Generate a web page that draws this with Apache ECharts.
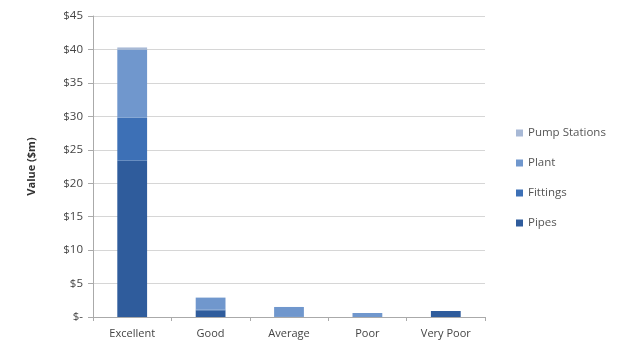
<!DOCTYPE html>
<html>
<head>
<meta charset="utf-8">
<script src="https://cdn.jsdelivr.net/npm/echarts@6/dist/echarts.min.js"></script>
<style>
  html, body { margin: 0; padding: 0; background: #fff; }
  #chart { width: 630px; height: 349px; }
</style>
</head>
<body>
<div id="chart"></div>
<script>
// categories and values ($m)
const categories = ['Excellent', 'Good', 'Average', 'Poor', 'Very Poor'];
const pipes = [23.4, 1.0, 0, 0, 0.9];
const fittings = [6.4, 0.1, 0.1, 0, 0];
const plant = [10.2, 1.8, 1.4, 0.6, 0];
const pumpStations = [0.3, 0, 0, 0, 0];

const chart = echarts.init(document.getElementById('chart'));

const font = '"Open Sans", "DejaVu Sans", sans-serif';

function bar(name, data, color) {
  return {
    name: name,
    type: 'bar',
    stack: 'total',
    data: data,
    barWidth: '38%',
    itemStyle: { color: color },
    emphasis: { disabled: true }
  };
}

chart.setOption({
  animation: false,
  grid: { left: 93, right: 145, top: 16, bottom: 32 },
  legend: {
    orient: 'vertical',
    left: 511,
    top: 121,
    itemGap: 16,
    itemWidth: 7,
    itemHeight: 7,
    icon: 'rect',
    data: ['Pump Stations', 'Plant', 'Fittings', 'Pipes'],
    textStyle: { color: '#555', fontSize: 11.5, fontFamily: font, lineHeight: 14 }
  },
  xAxis: {
    type: 'category',
    data: categories,
    axisLine: { lineStyle: { color: '#aaa' } },
    axisTick: { show: true, length: 4, lineStyle: { color: '#aaa' } },
    axisLabel: { color: '#444', fontSize: 11, fontFamily: font, margin: 11 }
  },
  yAxis: {
    type: 'value',
    min: 0,
    max: 45,
    interval: 5,
    name: 'Value ($m)',
    nameLocation: 'middle',
    nameGap: 56,
    nameTextStyle: { color: '#333', fontSize: 11, fontWeight: 'bold', fontFamily: font },
    axisLine: { show: true, lineStyle: { color: '#aaa' } },
    axisTick: { show: true, length: 5, lineStyle: { color: '#aaa' } },
    splitLine: { lineStyle: { color: '#d6d6d6' } },
    axisLabel: {
      color: '#444',
      fontSize: 11.5,
      fontFamily: font,
      margin: 10,
      formatter: function (v) { return v === 0 ? '$-' : '$' + v; }
    }
  },
  series: [
    bar('Pipes', pipes, '#2f5c9c'),
    bar('Fittings', fittings, '#3d70b6'),
    bar('Plant', plant, '#7097cd'),
    bar('Pump Stations', pumpStations, '#a8b9d6')
  ]
});
</script>
</body>
</html>
